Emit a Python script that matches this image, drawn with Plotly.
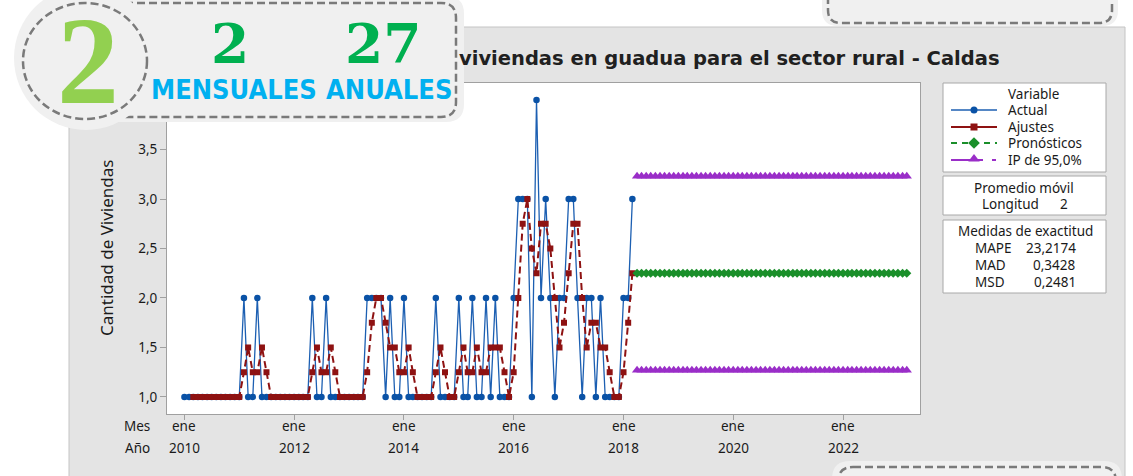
import plotly.graph_objects as go
import pandas as pd

W, H = 1133, 476

# ---------------- data ----------------
actual = [1, 1, 1, 1, 1, 1, 1, 1, 1, 1, 1, 1,          # 2010
          1, 2, 1, 1, 2, 1, 1, 1, 1, 1, 1, 1,          # 2011
          1, 1, 1, 1, 2, 1, 1, 2, 1, 1, 1, 1,          # 2012
          1, 1, 1, 1, 2, 2, 2, 2, 1, 2, 1, 1,          # 2013
          2, 1, 1, 1, 1, 1, 1, 2, 1, 1, 1, 1,          # 2014
          2, 1, 1, 2, 1, 1, 2, 1, 2, 1, 1, 1,          # 2015
          2, 3, 3, 3, 1, 4, 2, 3, 2, 1, 2, 2,          # 2016
          3, 3, 2, 1, 2, 2, 1, 2, 1, 1, 1, 1,          # 2017
          2, 2, 3]                                     # 2018 (ene-mar)

fits = [1, 1, 1, 1, 1, 1, 1, 1, 1, 1, 1,
        1.25, 1.5, 1.25, 1.25, 1.5, 1.25,
        1, 1, 1, 1, 1, 1, 1, 1, 1,
        1.25, 1.5, 1.25, 1.25, 1.5, 1.25,
        1, 1, 1, 1, 1, 1,
        1.25, 1.75, 2, 2, 1.75, 1.5, 1.5, 1.25, 1.25, 1.5, 1.25,
        1, 1, 1, 1,
        1.25, 1.5, 1.25, 1, 1, 1.25, 1.5, 1.25, 1.25, 1.5, 1.25, 1.25,
        1.5, 1.5, 1.5, 1.25, 1, 1.25, 2, 2.75, 3, 2.5, 2.25, 2.75, 2.75,
        2.5, 2, 1.5, 1.75, 2.25, 2.75, 2.75, 2, 1.5, 1.75, 1.75, 1.5, 1.5,
        1.25, 1, 1, 1.25, 1.75, 2.25]

forecast = [2.25] * 60
pi_upper = [3.23] * 60
pi_lower = [1.27] * 60

months_actual = pd.date_range("2010-01-01", periods=len(actual), freq="MS")
months_fits = months_actual[len(actual) - len(fits):]
months_fc = pd.date_range("2018-04-01", periods=len(forecast), freq="MS")

tick_years = ["2010", "2012", "2014", "2016", "2018", "2020", "2022"]
tick_month = "ene"
y_ticks = [1.0, 1.5, 2.0, 2.5, 3.0, 3.5, 4.0]

legend_items = ["Actual", "Ajustes", "Pronósticos", "IP de 95,0%"]
accuracy_names = ["MAPE", "MAD", "MSD"]
accuracy_values = ["23,2174", "0,3428", "0,2481"]

# ---------------- styles ----------------
C_ACT = "#1c5fb2"
C_ACT_M = "#0a52a6"
C_FIT = "#8e1212"
C_FC = "#1a8f2a"
C_PI = "#9a2ec8"
FONT = "Noto Sans, Open Sans, DejaVu Sans, sans-serif"
TXT = "#1a1a1a"


def px(x):
    return x / W


def py(y):
    return 1 - y / H


def rrect(x0, y0, x1, y1, r):
    pts = [("M", (x0 + r, y0)), ("L", (x1 - r, y0)), ("Q", (x1, y0), (x1, y0 + r)),
           ("L", (x1, y1 - r)), ("Q", (x1, y1), (x1 - r, y1)), ("L", (x0 + r, y1)),
           ("Q", (x0, y1), (x0, y1 - r)), ("L", (x0, y0 + r)), ("Q", (x0, y0), (x0 + r, y0))]
    s = ""
    for p in pts:
        s += p[0] + " " + " ".join(f"{px(a):.5f},{py(b):.5f}" for a, b in p[1:]) + " "
    return s + "Z"


fig = go.Figure()

# main series
fig.add_trace(go.Scatter(x=months_actual, y=actual, mode="lines+markers",
                         line=dict(color=C_ACT, width=1.3),
                         marker=dict(symbol="circle", size=6.5, color=C_ACT_M),
                         showlegend=False))
fig.add_trace(go.Scatter(x=months_fits, y=fits, mode="lines+markers",
                         line=dict(color=C_FIT, width=2, dash="7px,4px"),
                         marker=dict(symbol="square", size=6, color=C_FIT),
                         showlegend=False))
fig.add_trace(go.Scatter(x=months_fc, y=forecast, mode="lines+markers",
                         line=dict(color=C_FC, width=1.5, dash="5px,3px"),
                         marker=dict(symbol="diamond", size=7, color=C_FC),
                         showlegend=False))
for band in (pi_upper, pi_lower):
    fig.add_trace(go.Scatter(x=months_fc, y=band, mode="lines+markers",
                             line=dict(color=C_PI, width=1.5),
                             marker=dict(symbol="triangle-up", size=9, color=C_PI),
                             showlegend=False))

# legend samples (pixel-coordinate overlay axes)
rows_y = [110, 127, 143, 160]
lx0, lx1, lm = 951, 997, 974


def sample(xs, yy, **kw):
    fig.add_trace(go.Scatter(x=xs, y=[yy] * len(xs), xaxis="x2", yaxis="y2",
                             showlegend=False, hoverinfo="skip", **kw))


sample([lx0, lx1], rows_y[0], mode="lines", line=dict(color=C_ACT, width=1.3))
sample([lm], rows_y[0], mode="markers", marker=dict(symbol="circle", size=7, color=C_ACT_M))
sample([lx0, lx1], rows_y[1], mode="lines", line=dict(color=C_FIT, width=2))
sample([lm], rows_y[1], mode="markers", marker=dict(symbol="square", size=7, color=C_FIT))
sample([lx0, lx1], rows_y[2], mode="lines", line=dict(color=C_FC, width=2, dash="6px,5px"))
sample([lm], rows_y[2], mode="markers", marker=dict(symbol="diamond", size=9, color=C_FC))
sample([lx0, 983], rows_y[3], mode="lines", line=dict(color=C_PI, width=2))
sample([992, 996], rows_y[3], mode="lines", line=dict(color=C_PI, width=2))
sample([lm], rows_y[3] - 1, mode="markers", marker=dict(symbol="triangle-up", size=10, color=C_PI))

shapes = []
# gray panel and white plotting area
shapes.append(dict(type="rect", xref="paper", yref="paper", layer="below",
                   x0=px(69), x1=px(1125), y0=py(480), y1=py(27),
                   fillcolor="#e4e4e4", line=dict(color="#c4c4c4", width=1)))
shapes.append(dict(type="rect", xref="paper", yref="paper", layer="below",
                   x0=px(167), x1=px(920), y0=py(414), y1=py(83),
                   fillcolor="#ffffff", line=dict(width=0)))
# legend boxes
for (y0, y1) in [(83, 172), (176, 215), (220, 293)]:
    shapes.append(dict(type="rect", xref="paper", yref="paper", layer="below",
                       x0=px(943), x1=px(1106), y0=py(y1), y1=py(y0),
                       fillcolor="#ffffff", line=dict(color="#a8a8a8", width=1)))

# badges (on top)
DASH = dict(color="#7a7a7a", width=2.5, dash="8px,4px")
BFILL = "#f0f0f0"
shapes.append(dict(type="path", xref="paper", yref="paper", layer="above",
                   path=rrect(100, -4, 464, 122, 18), fillcolor=BFILL, line=dict(width=0)))
shapes.append(dict(type="path", xref="paper", yref="paper", layer="above",
                   path=rrect(110, 3, 456, 117, 15), fillcolor=BFILL, line=DASH))
shapes.append(dict(type="circle", xref="paper", yref="paper", layer="above",
                   x0=px(14), x1=px(158), y0=py(130), y1=py(-14),
                   fillcolor=BFILL, line=dict(width=0)))
shapes.append(dict(type="circle", xref="paper", yref="paper", layer="above",
                   x0=px(23), x1=px(147), y0=py(119), y1=py(3),
                   fillcolor=BFILL, line=DASH))
# top-right badge
shapes.append(dict(type="path", xref="paper", yref="paper", layer="above",
                   path=rrect(822, -30, 1118, 26, 16), fillcolor=BFILL, line=dict(width=0)))
shapes.append(dict(type="path", xref="paper", yref="paper", layer="above",
                   path=rrect(828, -30, 1112, 23, 13), fillcolor=BFILL, line=DASH))
# bottom-right badge
shapes.append(dict(type="path", xref="paper", yref="paper", layer="above",
                   path=rrect(832, 461, 1122, 520, 18), fillcolor=BFILL, line=dict(width=0)))
shapes.append(dict(type="path", xref="paper", yref="paper", layer="above",
                   path=rrect(838, 467, 1116, 520, 15), fillcolor=BFILL, line=DASH))

ann = []


def text(x, y, s, size=13.5, color=TXT, xanchor="center", family=FONT, weight=None, angle=0):
    f = dict(family=family, size=size, color=color)
    if weight:
        f["weight"] = weight
    ann.append(dict(x=px(x), y=py(y), xref="paper", yref="paper", text=s, showarrow=False,
                    xanchor=xanchor, yanchor="middle", font=f, textangle=angle))


# title (visible portion)
text(457, 58, "viviendas en guadua para el sector rural - Caldas", size=19.5,
     xanchor="left", family="DejaVu Sans, sans-serif", weight="bold", color="#202020")
# y-axis title
text(106, 248, "Cantidad de Viviendas", size=17, angle=-90)
# x-axis labels
text(137, 426, "Mes", size=13.5)
text(137, 448, "Año", size=13.5)
for yr in tick_years:
    ann.append(dict(x=f"{yr}-01-01", xref="x", y=py(426), yref="paper", text=tick_month,
                    showarrow=False, xanchor="center", yanchor="middle",
                    font=dict(family=FONT, size=13.5, color=TXT)))
    ann.append(dict(x=f"{yr}-01-01", xref="x", y=py(448), yref="paper", text=yr,
                    showarrow=False, xanchor="center", yanchor="middle",
                    font=dict(family=FONT, size=13.5, color=TXT)))

# legend texts
text(1033, 94, "Variable")
for name, yy in zip(legend_items, rows_y):
    text(1006, yy, name, xanchor="left")
text(1024, 188, "Promedio móvil")
text(980, 204, "Longitud", xanchor="left")
text(1064, 204, "2")
text(1025, 231, "Medidas de exactitud")
for name, val, yy in zip(accuracy_names, accuracy_values, [248, 265, 282]):
    text(973, yy, name, xanchor="left")
    text(1078, yy, val, xanchor="right")

# badge texts
SERIF = "Liberation Serif, DejaVu Serif, serif"
DSERIF = "DejaVu Serif, Liberation Serif, serif"
NARROW = "DejaVu Sans Condensed, Liberation Sans Narrow, sans-serif"
text(88, 62, "2", size=124, color="#92d050", family=SERIF, weight="bold")
text(230, 43, "2", size=55, color="#00b050", family=DSERIF, weight="bold")
text(383, 43, "27", size=55, color="#00b050", family=DSERIF, weight="bold")
text(234, 89, "MENSUALES", size=27, color="#00b0f0", family=NARROW, weight="bold")
text(389, 89, "ANUALES", size=27, color="#00b0f0", family=NARROW, weight="bold")

fig.update_layout(
    width=W, height=H,
    margin=dict(l=0, r=0, t=0, b=0),
    paper_bgcolor="#ffffff",
    plot_bgcolor="rgba(0,0,0,0)",
    separators=",.",
    showlegend=False,
    shapes=shapes,
    annotations=ann,
    xaxis=dict(domain=[px(167), px(920)], range=["2009-09-07", "2023-05-28"],
               showgrid=False, zeroline=False, showline=True, mirror=True,
               linecolor="#a0a0a0", linewidth=1,
               tickvals=[f"{y}-01-01" for y in tick_years], showticklabels=False,
               ticks="outside", ticklen=5, tickcolor="#a0a0a0"),
    yaxis=dict(domain=[py(414), py(83)], range=[0.828, 4.172],
               showgrid=False, zeroline=False, showline=True, mirror=True,
               linecolor="#a0a0a0", linewidth=1,
               tickvals=y_ticks, tickformat=".1f", ticks="outside", ticklen=6,
               tickcolor="#a0a0a0", tickfont=dict(family=FONT, size=13.5, color=TXT)),
    xaxis2=dict(domain=[0, 1], range=[0, W], visible=False, anchor="y2", fixedrange=True),
    yaxis2=dict(domain=[0, 1], range=[H, 0], visible=False, anchor="x2", fixedrange=True),
)

fig.write_html("out.html", config={"displayModeBar": False},
               post_script="document.body.style.margin='0';document.body.style.overflow='hidden';")
